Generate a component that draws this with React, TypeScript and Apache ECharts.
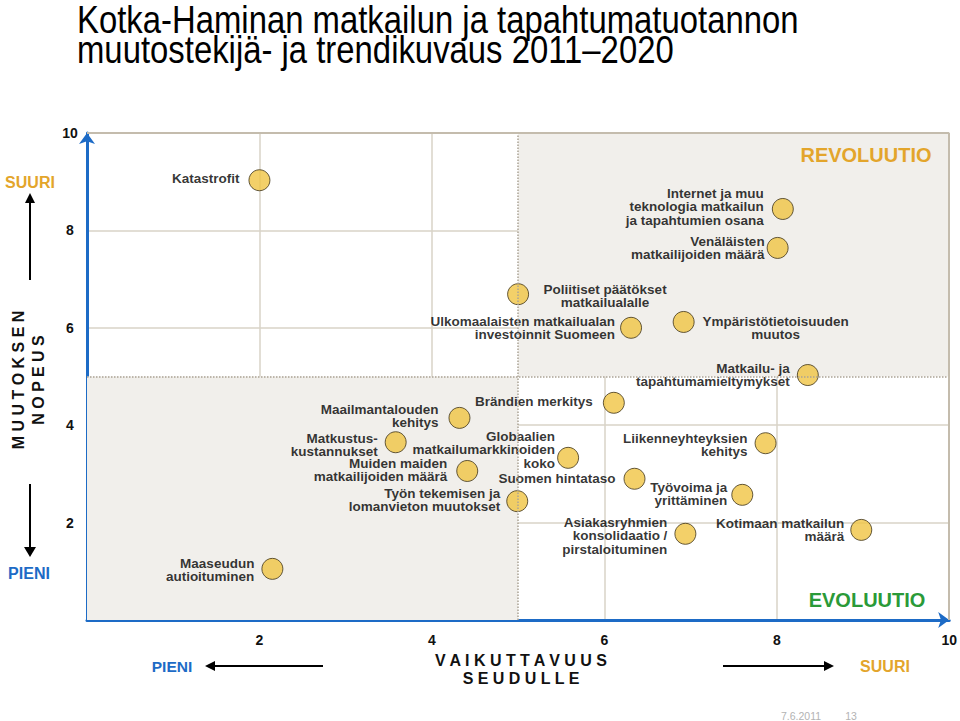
import React, { useEffect, useRef } from "react";
import * as echarts from "echarts";

// ---- Data ----
const factors = [
  "Katastrofit",
  "Internet ja muu\nteknologia matkailun\nja tapahtumien osana",
  "Venäläisten\nmatkailijoiden määrä",
  "Poliitiset päätökset\nmatkailualalle",
  "Ulkomaalaisten matkailualan\ninvestoinnit Suomeen",
  "Ympäristötietoisuuden\nmuutos",
  "Matkailu- ja\ntapahtumamieltymykset",
  "Brändien merkitys",
  "Maailmantalouden\nkehitys",
  "Matkustus-\nkustannukset",
  "Globaalien\nmatkailumarkkinoiden\nkoko",
  "Muiden maiden\nmatkailijoiden määrä",
  "Suomen hintataso",
  "Työn tekemisen ja\nlomanvieton muutokset",
  "Liikenneyhteyksien\nkehitys",
  "Työvoima ja\nyrittäminen",
  "Asiakasryhmien\nkonsolidaatio /\npirstaloituminen",
  "Kotimaan matkailun\nmäärä",
  "Maaseudun\nautioituminen",
];
// Vaikuttavuus seudulle (x)
const impact = [2.0, 8.07, 8.01, 5.0, 6.31, 6.92, 8.36, 6.11, 4.32, 3.58, 5.58, 4.41, 6.35, 4.99, 7.87, 7.6, 6.94, 8.98, 2.15];
// Muutoksen nopeus (y)
const speed = [9.03, 8.44, 7.64, 6.69, 6.0, 6.12, 5.03, 4.46, 4.15, 3.65, 3.33, 3.06, 2.9, 2.44, 3.63, 2.57, 1.77, 1.85, 1.05];
const tickValues = [2, 4, 6, 8, 10];

// ---- Label placement (style only) ----
// [side, distance, dx, dy]
const labelPlacement: [string, number, number, number][] = [
  ["left", 9, 0, -2],
  ["left", 8, 0, -2],
  ["left", 2, 0, 0],
  ["rightc", 14, 62, 2],
  ["left", 5, 0, 0],
  ["rightc", 7, 74, 6],
  ["left", 7, 0, 0],
  ["left", 10, 0, -1],
  ["left", 10, 0, -2],
  ["left", 7, 0, 3],
  ["left", 2, 0, -8],
  ["left", 9, 0, -1],
  ["left", 8, 0, 0],
  ["left", 6, 0, -1],
  ["left", 7, 0, 2],
  ["left", 4, 0, -1],
  ["left", 7, 0, 2],
  ["left", 6, 0, 0],
  ["left", 7, 0, 1],
];

const FONT = "'Liberation Sans', Arial, sans-serif";
const BLUE = "#1d6bc6";
const ORANGE = "#e3a52b";
const GREEN = "#2a9a38";

export default function App() {
  const ref = useRef<HTMLDivElement>(null);
  useEffect(() => {
    if (!ref.current) return;
    const chart = echarts.init(ref.current, null, { renderer: "svg" });

    const points = factors.map((name, i) => {
      const [side, dist, dx, dy] = labelPlacement[i];
      const label: any = {
        show: true,
        formatter: "{b}",
        distance: dist,
        offset: [dx, dy],
      };
      if (side === "left") {
        label.position = "left";
        label.align = "right";
      } else {
        label.position = "right";
        label.align = "center";
      }
      return { name, value: [impact[i], speed[i]], label };
    });

    const arrowLine = (x1: number, y1: number, x2: number, y2: number) => ({
      type: "line",
      z: 20,
      shape: { x1, y1, x2, y2 },
      style: { stroke: "#000", lineWidth: 2 },
    });
    const tri = (pts: number[][]) => ({
      type: "polygon",
      z: 20,
      shape: { points: pts },
      style: { fill: "#000" },
    });
    const txt = (x: number, y: number, text: string, size: number, color: string, extra: any = {}) => ({
      type: "text",
      z: 20,
      x,
      y,
      ...extra,
      style: {
        text,
        fill: color,
        fontSize: size,
        fontWeight: "bold",
        fontFamily: FONT,
        textAlign: "center",
        textVerticalAlign: "middle",
        ...(extra.style || {}),
      },
    });

    const option: any = {
      animation: false,
      backgroundColor: "#fff",
      grid: {
        left: 87,
        top: 133,
        right: 9,
        bottom: 101,
        show: false,
      },
      xAxis: {
        type: "value",
        min: 0,
        max: 10,
        interval: 2,
        axisLine: {
          show: true,
          symbol: ["none", "arrow"],
          symbolSize: [12, 11],
          lineStyle: { color: BLUE, width: 3 },
        },
        axisTick: { show: false },
        splitLine: { show: true, lineStyle: { color: "#d9d3c7", width: 1.5 } },
        axisLabel: {
          margin: 13,
          color: "#111",
          fontSize: 14,
          fontWeight: "bold",
          fontFamily: FONT,
          formatter: (v: number) => (tickValues.includes(v) ? String(v) : ""),
        },
      },
      yAxis: {
        type: "value",
        min: 0,
        max: 10,
        interval: 2,
        axisLine: {
          show: true,
          symbol: ["none", "arrow"],
          symbolSize: [12, 11],
          lineStyle: { color: BLUE, width: 3 },
        },
        axisTick: { show: false },
        splitLine: { show: true, lineStyle: { color: "#d9d3c7", width: 1.5 } },
        axisLabel: {
          margin: 17,
          align: "center",
          color: "#111",
          fontSize: 14,
          fontWeight: "bold",
          fontFamily: FONT,
          formatter: (v: number) => (tickValues.includes(v) ? String(v) : ""),
        },
      },
      series: [
        {
          type: "scatter",
          z: -1,
          data: [],
          markArea: {
            silent: true,
            itemStyle: { color: "#f1efeb", borderWidth: 0 },
            data: [
              [{ coord: [0, 0] }, { coord: [5, 5] }],
              [{ coord: [5, 5] }, { coord: [10, 10] }],
            ],
          },
          markLine: {
            silent: true,
            symbol: "none",
            label: { show: false },
            lineStyle: { color: "#aaa294", type: "dotted", width: 1.5 },
            data: [{ xAxis: 5 }, { yAxis: 5 }],
          },
        },
        {
          type: "scatter",
          z: 1,
          data: [],
          markLine: {
            silent: true,
            symbol: "none",
            label: { show: false },
            lineStyle: { color: "#c4bcad", type: "solid", width: 2 },
            data: [{ xAxis: 10 }, { yAxis: 10 }],
          },
        },
        {
          type: "scatter",
          z: 3,
          symbolSize: 21,
          itemStyle: { color: "#f0c444", borderColor: "#3f3318", borderWidth: 1 },
          label: {
            color: "#000",
            fontSize: 13.5,
            lineHeight: 13.5,
            fontWeight: "bold",
            fontFamily: FONT,
          },
          data: points,
        },
      ],
      graphic: [
        txt(77, 20, "Kotka-Haminan matkailun ja tapahtumatuotannon", 38, "#000", {
          scaleX: 0.865,
          style: { fontWeight: "normal", textAlign: "left" },
        }),
        txt(77, 50, "muutostekijä- ja trendikuvaus 2011–2020", 38, "#000", {
          scaleX: 0.865,
          style: { fontWeight: "normal", textAlign: "left" },
        }),
        txt(30, 182, "SUURI", 16, ORANGE),
        arrowLine(30, 280, 30, 201),
        tri([[30, 193], [25, 203], [35, 203]]),
        txt(18, 380, "M U U T O K S E N", 16, "#111", { rotation: Math.PI / 2 }),
        txt(38, 380, "N O P E U S", 16, "#111", { rotation: Math.PI / 2 }),
        arrowLine(30, 484, 30, 549),
        tri([[30, 557], [24, 547], [36, 547]]),
        txt(29, 573, "PIENI", 16, BLUE),
        txt(172, 666, "PIENI", 15.5, BLUE),
        arrowLine(213, 666, 323, 666),
        tri([[205, 666], [215, 661], [215, 671]]),
        txt(521, 660, "V A I K U T T A V U U S", 16, "#111"),
        txt(521, 678, "S E U D U L L E", 16, "#111"),
        arrowLine(723, 666, 825, 666),
        tri([[834, 666], [824, 661], [824, 671]]),
        txt(885, 666, "SUURI", 16, ORANGE),
        txt(866, 155, "REVOLUUTIO", 20, ORANGE),
        txt(867, 600, "EVOLUUTIO", 20, GREEN),
        txt(801, 716, "7.6.2011", 10.5, "#b3b3b3", { style: { fontWeight: "normal" } }),
        txt(851, 716, "13", 10.5, "#b3b3b3", { style: { fontWeight: "normal" } }),
      ],
    };
    chart.setOption(option);
    return () => chart.dispose();
  }, []);
  return <div ref={ref} style={{ width: 960, height: 721, position: "absolute", left: 0, top: 0 }} />;
}
